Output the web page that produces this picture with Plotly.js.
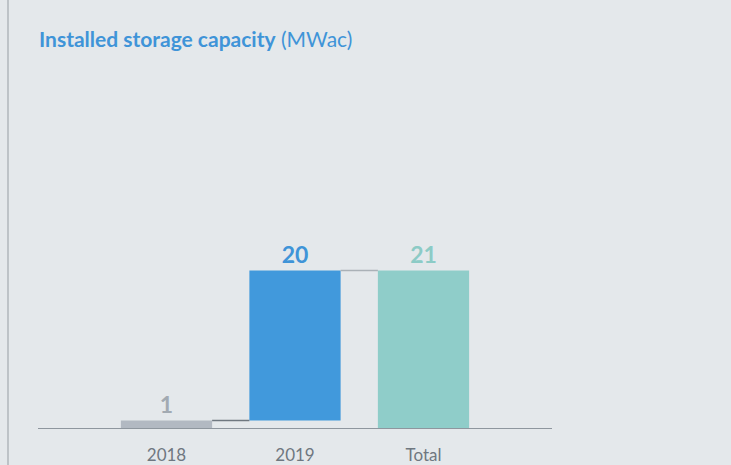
<!DOCTYPE html>
<html><head><meta charset="utf-8">
<script src="https://cdn.plot.ly/plotly-3.0.1.min.js"></script>
<style>html,body{margin:0;padding:0;background:#e4e8eb;}#c{width:731px;height:465px;}</style>
</head><body><div id="c"></div>
<script>
const categories = ["2018", "2019", "Total"];
const values = [1, 20, 21];
const bases = [0, 1, 0];
const barColors = ["#b2b9c2", "#4199dc", "#8fcdc9"];
const labelColors = ["#a2aab2", "#3f94d8", "#8ccbc6"];
const connectorColors = ["#6f7880", "#aab1b7"];

const W = 0.71;
const shapes = [];
for (let i = 0; i < categories.length - 1; i++) {
  const top = bases[i] + values[i];
  shapes.push({type:'line', xref:'x', yref:'y', x0:i + W/2, x1:i + 1 - W/2, y0:top, y1:top,
    line:{color:connectorColors[i], width:1.5}});
}
shapes.push({type:'line', xref:'paper', yref:'paper', x0:-30/514, x1:-30/514, y0:-1, y1:3,
  line:{color:'#a3a9af', width:1.2}});

const trace = {
  type:'bar', x:[0,1,2], y:values, base:bases, width:W,
  marker:{color:barColors, line:{width:0}},
  text:values.map(String), textposition:'outside',
  textfont:{family:'Lato, sans-serif', size:23, color:labelColors, weight:'bold'},
  cliponaxis:false, hoverinfo:'none'
};

const layout = {
  width:731, height:465,
  paper_bgcolor:'#e4e8eb', plot_bgcolor:'#e4e8eb',
  margin:{l:38, r:179, t:218, b:37},
  showlegend:false,
  title:{text:'<b>Installed storage capacity</b> (MWac)', xref:'container', yref:'container',
    x:39/731, xanchor:'left', y:1-40/465, yanchor:'middle',
    font:{family:'Lato, sans-serif', size:21, color:'#3f94d8'}},
  xaxis:{range:[-1,3], tickvals:[0,1,2], ticktext:categories, showgrid:false, zeroline:false,
    showline:true, linecolor:'#8e969e', linewidth:1.2, ticks:'', ticklabelstandoff:11,
    tickfont:{family:'Lato, sans-serif', size:17, color:'#6f7780'}, fixedrange:true},
  yaxis:{range:[0,28], visible:false, fixedrange:true},
  shapes:shapes
};
Plotly.newPlot('c', [trace], layout, {displayModeBar:false, staticPlot:true});
</script></body></html>
